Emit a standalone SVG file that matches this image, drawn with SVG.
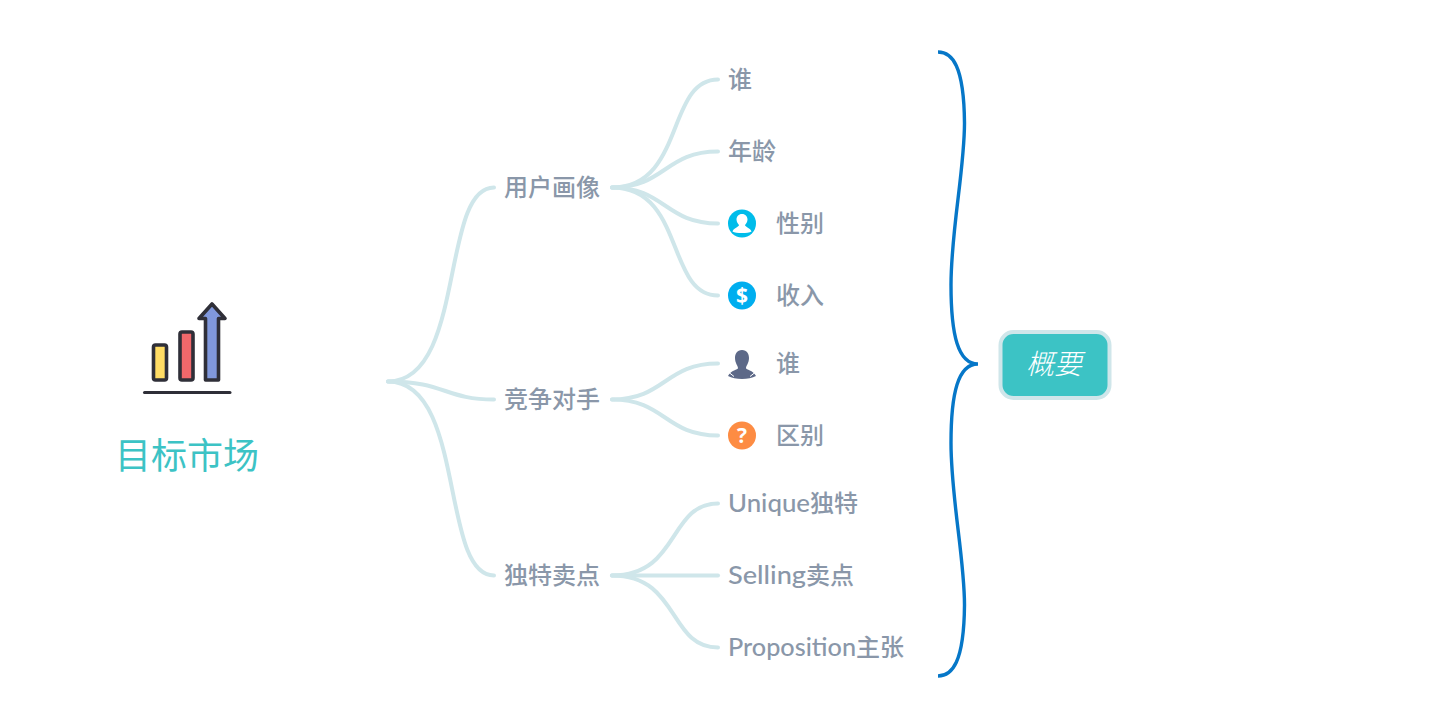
<svg xmlns="http://www.w3.org/2000/svg" width="1432" height="718" viewBox="0 0 1432 718">
<style>
.bg{fill:#fff}
.c{fill:none;stroke:#cfe6ea;stroke-width:4;stroke-linecap:round}
.t{font-family:"Lato","Noto Sans CJK SC",sans-serif;font-size:24px;font-weight:500;fill:#8a97a9}
.ic{stroke:#2f2f38;stroke-width:3.6;stroke-linejoin:round}
.br{fill:none;stroke:#0677c8;stroke-width:3.4;stroke-linecap:butt}
</style>
<rect class="bg" width="1432" height="718"/>
<g id="connectors">
<path class="c" d="M388 381.500C466 381.500 440 187.500 494 187.500"/>
<path class="c" d="M388 381.500C445 381.500 445 399.500 494 399.500"/>
<path class="c" d="M388 381.500C466 381.500 440 575.500 494 575.500"/>
<path class="c" d="M612 187.500C685 187.500 666 79.500 718 79.500"/>
<path class="c" d="M612 187.500C665 187.500 665 151.500 718 151.500"/>
<path class="c" d="M612 187.500C665 187.500 665 223.500 718 223.500"/>
<path class="c" d="M612 187.500C685 187.500 666 295.500 718 295.500"/>
<path class="c" d="M612 399.500C665 399.500 665 363.500 718 363.500"/>
<path class="c" d="M612 399.500C665 399.500 665 435.500 718 435.500"/>
<path class="c" d="M612 575.500C680 575.500 668 503.500 718 503.500"/>
<path class="c" d="M612 575.500H718"/>
<path class="c" d="M612 575.500C680 575.500 668 647.500 718 647.500"/>
</g>
<g id="root">
<rect x="153.500" y="345" width="13" height="35" rx="2" fill="#ffdc64" class="ic"/>
<rect x="180" y="332" width="13" height="48" rx="2" fill="#f0686b" class="ic"/>
<path d="M205.500 380V318.500H199L212 304L225 318.500H218.500V380Z" fill="#8098dc" class="ic"/>
<path d="M144.500 392.500H230" fill="none" stroke="#2f2f38" stroke-width="3" stroke-linecap="round"/>
<text x="187" y="469" text-anchor="middle" font-family="'Noto Sans CJK SC',sans-serif" font-size="36" font-weight="400" fill="#3cc3c5">目标市场</text>
</g>
<g id="n1"><text class="t" x="504" y="196">用户画像</text></g>
<g id="n2"><text class="t" x="504" y="408">竞争对手</text></g>
<g id="n3"><text class="t" x="504" y="584">独特卖点</text></g>
<g id="n11"><text class="t" x="728" y="88">谁</text></g>
<g id="n12"><text class="t" x="728" y="160">年龄</text></g>
<g id="n13">
<circle cx="742" cy="223.500" r="14" fill="#00bcea"/>
<path d="M742 214C738.500 214 736.500 216.500 736.500 219.500C736.500 222 738 224 739 225C739 227 733.500 228 732.500 231.500C736 233.500 748 233.500 751.500 231.500C750.500 228 745 227 745 225C746 224 747.500 222 747.500 219.500C747.500 216.500 745.500 214 742 214Z" fill="#fff"/>
<text class="t" x="776" y="232">性别</text>
</g>
<g id="n14">
<circle cx="742" cy="295.500" r="14" fill="#00aeef"/>
<text x="742" y="303" text-anchor="middle" font-family="'Open Sans',sans-serif" font-size="21" font-weight="700" fill="#fff">$</text>
<text class="t" x="776" y="304">收入</text>
</g>
<g id="n21">
<path d="M742 350C737 350 735 354 735 358C735 363 738 366 738 368C738 370 731 370 728 376C735 380 749 380 756 376C753 370 746 370 746 368C746 366 749 363 749 358C749 354 747 350 742 350Z" fill="#5d6988"/>
<path d="M729 372.500L734 376.500M755 372.500L750 376.500" fill="none" stroke="#fff" stroke-width="1"/>
<text class="t" x="776" y="372">谁</text>
</g>
<g id="n22">
<circle cx="742" cy="435.500" r="14" fill="#fd8c43"/>
<text x="742" y="443" text-anchor="middle" font-family="'Open Sans',sans-serif" font-size="21" font-weight="700" fill="#fff">?</text>
<text class="t" x="776" y="444">区别</text>
</g>
<g id="n31"><text class="t" x="728" y="512"><tspan textLength="82" lengthAdjust="spacingAndGlyphs">Unique</tspan><tspan x="810">独特</tspan></text></g>
<g id="n32"><text class="t" x="728" y="584"><tspan textLength="78" lengthAdjust="spacingAndGlyphs">Selling</tspan><tspan x="806">卖点</tspan></text></g>
<g id="n33"><text class="t" x="728" y="656"><tspan textLength="128" lengthAdjust="spacingAndGlyphs">Proposition</tspan><tspan x="856">主张</tspan></text></g>
<g id="summary-brace"><path class="br" d="M938 52C952 52 964 65 964.500 123C964.500 170 951 230 951 285C951 335 958 364 978 364C958 364 951 393 951 443C951 498 964.500 558 964.500 605C964 663 952 676 938 676"/></g>
<g id="summary">
<rect x="1000.500" y="332" width="109" height="66" rx="13" fill="#3cc3c5" stroke="#cfe6ea" stroke-width="4"/>
<text x="1054" y="374" text-anchor="middle" font-family="'Noto Sans CJK SC',sans-serif" font-size="28" font-style="italic" font-weight="300" fill="#fff">概要</text>
</g>
</svg>
